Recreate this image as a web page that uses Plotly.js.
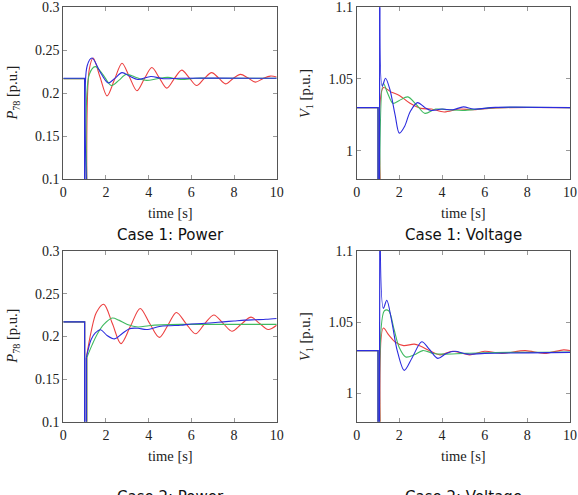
<!DOCTYPE html>
<html><head><meta charset="utf-8">
<script src="https://cdn.plot.ly/plotly-3.0.1.min.js"></script>
<style>html,body{margin:0;padding:0;background:#fff}</style>
</head><body><div id="chart" style="width:578px;height:495px"></div>
<script>
// ---------- Data ----------
const xTicks = [0, 2, 4, 6, 8, 10];
const powerTicks = [0.1, 0.15, 0.2, 0.25, 0.3];
const powerTickText = ['0.1', '0.15', '0.2', '0.25', '0.3'];
const voltTicks = [1, 1.05, 1.1];
const voltTickText = ['1', '1.05', '1.1'];
const captions = ['Case 1: Power', 'Case 1: Voltage', 'Case 2: Power', 'Case 2: Voltage'];

// Case 1 power
const c1pRedT = [0, 1.0, 1.0, 1.1, 1.1, 1.22, 1.4, 1.72, 2.05, 2.4, 2.75, 3.1, 3.45, 3.8, 4.15, 4.5, 4.85, 5.2, 5.55, 5.9, 6.25, 6.6, 6.95, 7.27, 7.6, 7.95, 8.3, 8.65, 9.0, 9.35, 9.7, 10];
const c1pRedV = [0.217, 0.217, 0.05, 0.05, 0.10, 0.228, 0.241, 0.219, 0.197, 0.216, 0.235, 0.219, 0.203, 0.217, 0.230, 0.218, 0.206, 0.217, 0.227, 0.218, 0.209, 0.217, 0.224, 0.218, 0.211, 0.217, 0.222, 0.218, 0.213, 0.217, 0.220, 0.219];
const c1pGreenT = [0, 1.0, 1.0, 1.1, 1.1, 1.22, 1.5, 1.85, 2.25, 2.6, 2.95, 3.45, 3.9, 4.4, 4.9, 5.5, 6.2, 7.0, 10];
const c1pGreenV = [0.217, 0.217, 0.05, 0.05, 0.10, 0.222, 0.231, 0.222, 0.209, 0.215, 0.222, 0.218, 0.215, 0.217, 0.2185, 0.216, 0.2175, 0.2175, 0.2175];
const c1pBlueT = [0, 1.0, 1.0, 1.08, 1.08, 1.12, 1.35, 1.7, 2.1, 2.4, 2.75, 3.1, 3.5, 4.1, 4.7, 5.5, 10];
const c1pBlueV = [0.2175, 0.2175, 0.05, 0.05, 0.10, 0.232, 0.241, 0.226, 0.212, 0.217, 0.224, 0.220, 0.216, 0.2195, 0.217, 0.2175, 0.2175];

// Case 1 voltage
const c1vRedT = [0, 1.0, 1.0, 1.1, 1.1, 1.25, 1.6, 2.0, 2.5, 3.0, 3.5, 4.1, 4.8, 5.5, 6.2, 7.0, 10];
const c1vRedV = [1.03, 1.03, 0.95, 0.95, 0.98, 1.044, 1.041, 1.0385, 1.033, 1.0295, 1.029, 1.027, 1.029, 1.0285, 1.0295, 1.030, 1.030];
const c1vGreenT = [0, 1.0, 1.0, 1.08, 1.08, 1.25, 1.45, 1.7, 2.0, 2.4, 2.8, 3.2, 3.7, 4.3, 5.0, 5.7, 6.5, 10];
const c1vGreenV = [1.03, 1.03, 0.95, 0.95, 0.98, 1.047, 1.040, 1.033, 1.035, 1.0375, 1.032, 1.026, 1.029, 1.0285, 1.028, 1.029, 1.030, 1.030];
const c1vBlueT = [0, 1.0, 1.0, 1.06, 1.09, 1.2, 1.35, 1.55, 1.8, 2.0, 2.25, 2.5, 2.85, 3.2, 3.5, 4.0, 4.5, 5.0, 5.5, 6.5, 10];
const c1vBlueV = [1.03, 1.03, 0.95, 0.95, 1.15, 1.045, 1.0505, 1.043, 1.025, 1.0122, 1.017, 1.027, 1.0335, 1.030, 1.028, 1.029, 1.0285, 1.0305, 1.029, 1.0302, 1.030];

// Case 2 power
const c2pRedT = [0, 1.0, 1.0, 1.1, 1.1, 1.3, 1.55, 1.9, 2.3, 2.7, 3.15, 3.6, 4.05, 4.5, 4.9, 5.3, 5.75, 6.2, 6.6, 7.05, 7.5, 7.9, 8.35, 8.8, 9.2, 9.6, 10];
const c2pRedV = [0.217, 0.217, 0.05, 0.05, 0.178, 0.205, 0.228, 0.2375, 0.215, 0.1915, 0.212, 0.2327, 0.215, 0.1988, 0.213, 0.228, 0.215, 0.203, 0.214, 0.225, 0.215, 0.206, 0.2145, 0.2225, 0.215, 0.208, 0.213];
const c2pGreenT = [0, 1.0, 1.0, 1.1, 1.1, 1.35, 1.6, 1.9, 2.3, 2.6, 3.0, 3.5, 4.0, 4.6, 5.5, 7.0, 10];
const c2pGreenV = [0.217, 0.217, 0.05, 0.05, 0.175, 0.19, 0.203, 0.214, 0.2215, 0.219, 0.214, 0.211, 0.2125, 0.2135, 0.214, 0.214, 0.214];
const c2pBlueT = [0, 1.0, 1.0, 1.08, 1.08, 1.3, 1.5, 1.75, 2.05, 2.4, 2.75, 3.1, 3.5, 3.9, 4.5, 5.0, 5.5, 6.0, 6.5, 7.0, 7.5, 8.0, 8.5, 9.0, 9.5, 10];
const c2pBlueV = [0.217, 0.217, 0.05, 0.05, 0.175, 0.196, 0.204, 0.2078, 0.201, 0.197, 0.203, 0.209, 0.2095, 0.208, 0.2115, 0.2125, 0.213, 0.2145, 0.215, 0.216, 0.217, 0.218, 0.219, 0.2195, 0.220, 0.221];

// Case 2 voltage
const c2vRedT = [0, 1.0, 1.0, 1.1, 1.1, 1.25, 1.5, 1.8, 2.2, 2.7, 3.0, 3.4, 3.9, 4.5, 5.3, 6.0, 6.8, 7.9, 8.8, 9.7, 10];
const c2vRedV = [1.03, 1.03, 0.95, 0.95, 0.98, 1.0458, 1.041, 1.036, 1.0335, 1.0345, 1.033, 1.030, 1.027, 1.0295, 1.027, 1.0295, 1.028, 1.030, 1.028, 1.0305, 1.030];
const c2vGreenT = [0, 1.0, 1.0, 1.08, 1.08, 1.3, 1.5, 1.75, 2.0, 2.3, 2.7, 3.1, 3.6, 4.0, 5.0, 6.0, 10];
const c2vGreenV = [1.03, 1.03, 0.95, 0.95, 0.98, 1.058, 1.058, 1.045, 1.032, 1.0255, 1.027, 1.030, 1.028, 1.0275, 1.028, 1.0285, 1.029];
const c2vBlueT = [0, 1.0, 1.0, 1.06, 1.09, 1.25, 1.41, 1.65, 1.9, 2.23, 2.6, 3.05, 3.4, 3.8, 4.2, 4.6, 5.2, 6.0, 10];
const c2vBlueV = [1.03, 1.03, 0.95, 0.95, 1.15, 1.0597, 1.0654, 1.05, 1.03, 1.0161, 1.025, 1.0362, 1.031, 1.0245, 1.028, 1.0295, 1.0275, 1.028, 1.0287];

// ---------- Styling ----------
const RED = 'rgb(236,64,64)', GREEN = 'rgb(64,186,96)', BLUE = 'rgb(44,44,222)';
const panels = [
  {sets: [[c1pRedT, c1pRedV, RED], [c1pGreenT, c1pGreenV, GREEN], [c1pBlueT, c1pBlueV, BLUE]]},
  {sets: [[c1vRedT, c1vRedV, RED], [c1vGreenT, c1vGreenV, GREEN], [c1vBlueT, c1vBlueV, BLUE]]},
  {sets: [[c2pRedT, c2pRedV, RED], [c2pGreenT, c2pGreenV, GREEN], [c2pBlueT, c2pBlueV, BLUE]]},
  {sets: [[c2vRedT, c2vRedV, RED], [c2vGreenT, c2vGreenV, GREEN], [c2vBlueT, c2vBlueV, BLUE]]}
];

const traces = [];
panels.forEach((p, i) => {
  const sfx = i === 0 ? '' : String(i + 1);
  p.sets.forEach(([t, v, c]) => {
    // the fault part (first 5 points) is drawn straight; the recovery is smoothed
    const k = 4;
    traces.push({x: t.slice(0, k + 1), y: v.slice(0, k + 1), mode: 'lines', xaxis: 'x' + sfx, yaxis: 'y' + sfx,
      line: {color: c, width: 1.2, shape: 'linear'}, hoverinfo: 'skip', showlegend: false});
    traces.push({x: t.slice(k), y: v.slice(k), mode: 'lines', xaxis: 'x' + sfx, yaxis: 'y' + sfx,
      line: {color: c, width: 1.1, shape: 'spline', smoothing: 0.9}, hoverinfo: 'skip', showlegend: false});
  });
});

const W = 578, H = 495;
const colX = [[63.3, 276.7], [356.7, 570]];
const rowY = [[7.3, 179.3], [251, 421.7]];
const tickFont = {family: 'Liberation Serif, serif', size: 14, color: '#222'};
function xa(col, anchor) {
  return {domain: [colX[col][0] / W, colX[col][1] / W], range: [0, 10], tickvals: xTicks, ticktext: xTicks.map(String),
    showline: true, linecolor: '#555', linewidth: 1, mirror: 'ticks', ticks: 'inside', ticklen: 4, tickcolor: '#999',
    showgrid: false, zeroline: false, tickfont: tickFont, anchor: anchor, fixedrange: true};
}
function ya(row, anchor, power) {
  return {domain: [1 - rowY[row][1] / H, 1 - rowY[row][0] / H], range: power ? [0.1, 0.3] : [0.98, 1.1],
    tickvals: power ? powerTicks : voltTicks, ticktext: power ? powerTickText : voltTickText,
    showline: true, linecolor: '#555', linewidth: 1, mirror: 'ticks', ticks: 'inside', ticklen: 4, tickcolor: '#999',
    showgrid: false, zeroline: false, tickfont: tickFont, anchor: anchor, fixedrange: true};
}

const annotations = [];
const titleFont = {family: 'Liberation Serif, serif', size: 14.5, color: '#222'};
[[0, 0, true], [1, 0, false], [0, 1, true], [1, 1, false]].forEach(([col, row, power], i) => {
  const cx = (colX[col][0] + colX[col][1]) / 2;
  const cy = (rowY[row][0] + rowY[row][1]) / 2;
  annotations.push({text: 'time [s]', xref: 'paper', yref: 'paper', x: cx / W, y: 1 - (rowY[row][1] + 34) / H,
    showarrow: false, font: titleFont, xanchor: 'center', yanchor: 'middle'});
  annotations.push({text: power ? '<i>P</i><sub>78</sub> [p.u.]' : '<i>V</i><sub>1</sub> [p.u.]', xref: 'paper', yref: 'paper',
    x: (colX[col][0] - 50) / W, y: 1 - cy / H, textangle: -90, showarrow: false, font: titleFont, xanchor: 'center', yanchor: 'middle'});
  annotations.push({text: captions[i], xref: 'paper', yref: 'paper', x: cx / W, y: 1 - (row === 0 ? 235 : 497) / H,
    showarrow: false, font: {family: 'DejaVu Sans, sans-serif', size: 15, color: '#111'}, xanchor: 'center', yanchor: 'middle'});
});

const layout = {
  width: W, height: H, margin: {l: 0, r: 0, t: 0, b: 0}, paper_bgcolor: '#fff', plot_bgcolor: '#fff', showlegend: false,
  xaxis: xa(0, 'y'), yaxis: ya(0, 'x', true),
  xaxis2: xa(1, 'y2'), yaxis2: ya(0, 'x2', false),
  xaxis3: xa(0, 'y3'), yaxis3: ya(1, 'x3', true),
  xaxis4: xa(1, 'y4'), yaxis4: ya(1, 'x4', false),
  annotations: annotations
};
Plotly.newPlot('chart', traces, layout, {displayModeBar: false, staticPlot: true});
</script></body></html>
